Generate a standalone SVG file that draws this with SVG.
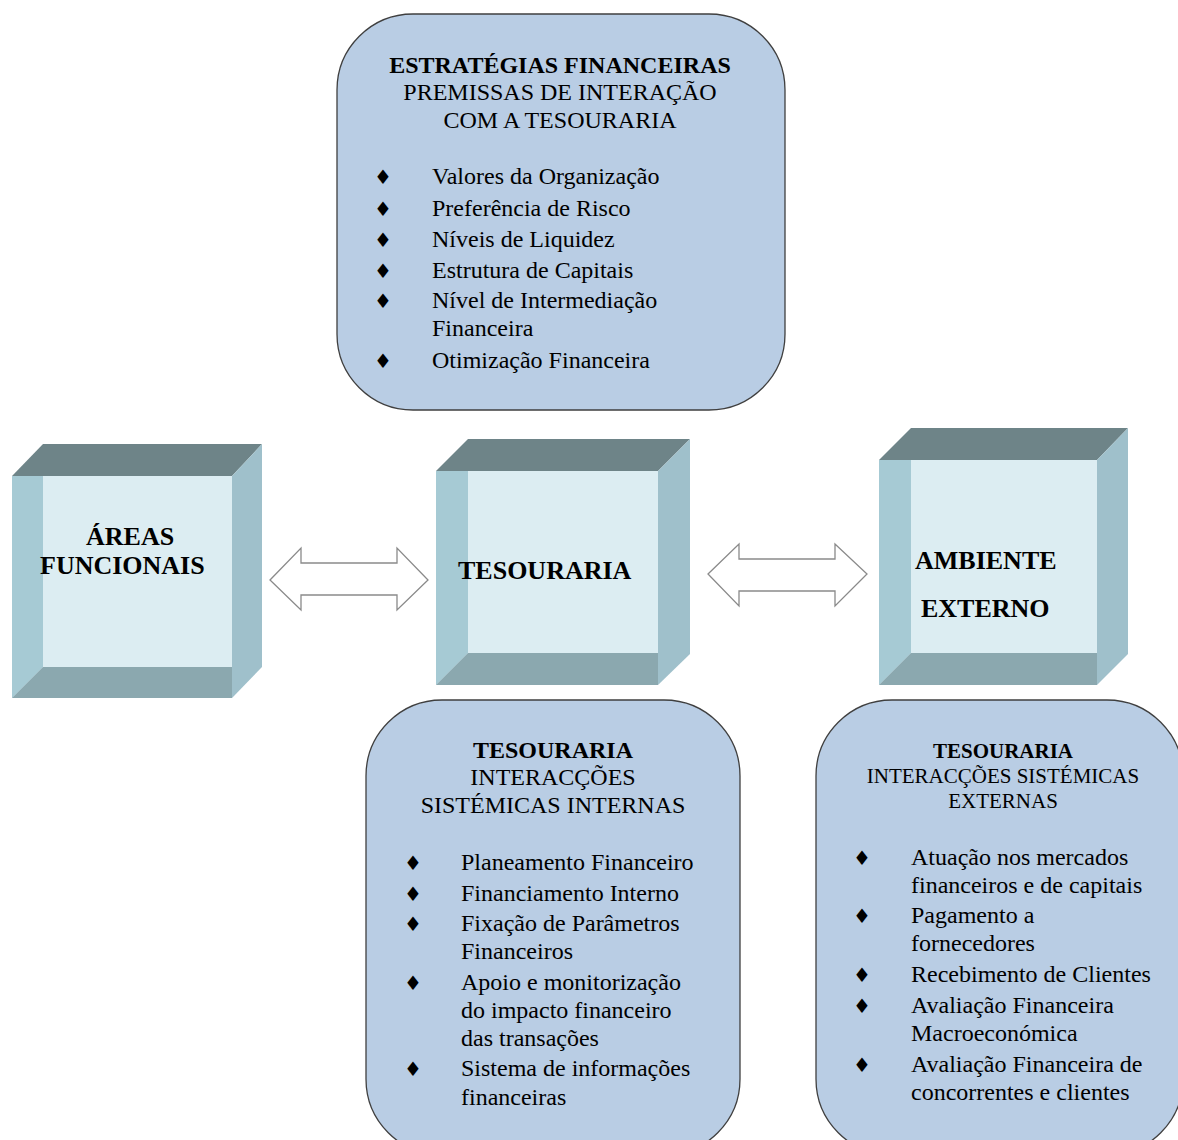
<svg xmlns="http://www.w3.org/2000/svg" width="1178" height="1140" viewBox="0 0 1178 1140">
<style>
.box{fill:#b9cde4;stroke:#3f3f3f;stroke-width:1.3}
.hb{font-family:"Liberation Serif",serif;font-weight:bold;font-size:24px;fill:#000;text-anchor:middle}
.hr{font-family:"Liberation Serif",serif;font-size:24px;fill:#000;text-anchor:middle}
.it{font-family:"Liberation Serif",serif;font-size:24px;fill:#000}
.bu{font-family:"DejaVu Sans",sans-serif;font-size:20px;fill:#000;text-anchor:middle}
.cb{font-family:"Liberation Serif",serif;font-weight:bold;font-size:26px;fill:#000}
.top{fill:#6e8488}
.side{fill:#9fc0cb}
.lft{fill:#a6cad4}
.bot{fill:#8ba8af}
.face{fill:#dcedf2}
.arr{fill:#fff;stroke:#8a8a8a;stroke-width:1.3}
</style>
<rect width="1178" height="1140" fill="#fff"/>

<g id="estrategias">
<rect class="box" x="337" y="14" width="448" height="396" rx="76" ry="76"/>
<text class="hb" x="560" y="73">ESTRATÉGIAS FINANCEIRAS</text>
<text class="hr" x="560" y="100">PREMISSAS DE INTERAÇÃO</text>
<text class="hr" x="560" y="128">COM A TESOURARIA</text>
<text class="bu" x="383" y="184">♦</text><text class="it" x="432" y="184">Valores da Organização</text>
<text class="bu" x="383" y="216">♦</text><text class="it" x="432" y="216">Preferência de Risco</text>
<text class="bu" x="383" y="247">♦</text><text class="it" x="432" y="247">Níveis de Liquidez</text>
<text class="bu" x="383" y="278">♦</text><text class="it" x="432" y="278">Estrutura de Capitais</text>
<text class="bu" x="383" y="308">♦</text><text class="it" x="432" y="308">Nível de Intermediação</text>
<text class="it" x="432" y="336">Financeira</text>
<text class="bu" x="383" y="368">♦</text><text class="it" x="432" y="368">Otimização Financeira</text>
</g>

<g id="areas-funcionais">
<polygon class="top" points="12,476 43,444 262,444 232,476"/>
<polygon class="side" points="232,476 262,444 262,667 232,698"/>
<rect class="face" x="12" y="476" width="220" height="222"/>
<polygon class="lft" points="12,476 43,476 43,667 12,698"/>
<polygon class="bot" points="12,698 43,667 232,667 232,698"/>
<text class="cb" x="86" y="545">ÁREAS</text>
<text class="cb" x="40" y="574">FUNCIONAIS</text>
</g>

<g id="tesouraria">
<polygon class="top" points="436,471 468,439 690,439 658,471"/>
<polygon class="side" points="658,471 690,439 690,654 658,685"/>
<rect class="face" x="436" y="471" width="222" height="214"/>
<polygon class="lft" points="436,471 468,471 468,653 436,685"/>
<polygon class="bot" points="436,685 468,653 658,653 658,685"/>
<text class="cb" x="458" y="579">TESOURARIA</text>
</g>

<g id="ambiente-externo">
<polygon class="top" points="879,460 911,428 1128,428 1097,460"/>
<polygon class="side" points="1097,460 1128,428 1128,654 1097,685"/>
<rect class="face" x="879" y="460" width="218" height="225"/>
<polygon class="lft" points="879,460 911,460 911,653 879,685"/>
<polygon class="bot" points="879,685 911,653 1097,653 1097,685"/>
<text class="cb" x="915" y="569">AMBIENTE</text>
<text class="cb" x="921" y="617">EXTERNO</text>
</g>

<g id="interacoes-internas">
<rect class="box" x="366" y="700" width="374" height="455" rx="76" ry="76"/>
<text class="hb" x="553" y="758">TESOURARIA</text>
<text class="hr" x="553" y="785">INTERACÇÕES</text>
<text class="hr" x="553" y="813">SISTÉMICAS INTERNAS</text>
<text class="bu" x="413" y="870">♦</text><text class="it" x="461" y="870">Planeamento Financeiro</text>
<text class="bu" x="413" y="901">♦</text><text class="it" x="461" y="901">Financiamento Interno</text>
<text class="bu" x="413" y="931">♦</text><text class="it" x="461" y="931">Fixação de Parâmetros</text>
<text class="it" x="461" y="959">Financeiros</text>
<text class="bu" x="413" y="990">♦</text><text class="it" x="461" y="990">Apoio e monitorização</text>
<text class="it" x="461" y="1018">do impacto financeiro</text>
<text class="it" x="461" y="1046">das transações</text>
<text class="bu" x="413" y="1076">♦</text><text class="it" x="461" y="1076">Sistema de informações</text>
<text class="it" x="461" y="1105">financeiras</text>
</g>

<g id="interacoes-externas">
<rect class="box" x="816" y="700" width="367" height="455" rx="76" ry="76"/>
<text class="hb" x="1003" y="758" style="font-size:21px">TESOURARIA</text>
<text class="hr" x="1003" y="783" style="font-size:21px">INTERACÇÕES SISTÉMICAS</text>
<text class="hr" x="1003" y="808" style="font-size:21px">EXTERNAS</text>
<text class="bu" x="862" y="865">♦</text><text class="it" x="911" y="865">Atuação nos mercados</text>
<text class="it" x="911" y="893">financeiros e de capitais</text>
<text class="bu" x="862" y="923">♦</text><text class="it" x="911" y="923">Pagamento a</text>
<text class="it" x="911" y="951">fornecedores</text>
<text class="bu" x="862" y="982">♦</text><text class="it" x="911" y="982">Recebimento de Clientes</text>
<text class="bu" x="862" y="1013">♦</text><text class="it" x="911" y="1013">Avaliação Financeira</text>
<text class="it" x="911" y="1041">Macroeconómica</text>
<text class="bu" x="862" y="1072">♦</text><text class="it" x="911" y="1072">Avaliação Financeira de</text>
<text class="it" x="911" y="1100">concorrentes e clientes</text>
</g>

<g id="connectors">
<polygon class="arr" points="270,580 301,548 301,563 397,563 397,548 428,580 397,610 397,595 301,595 301,610"/>
<polygon class="arr" points="708,574 739,544 739,559 835,559 835,544 867,574 835,606 835,591 739,591 739,606"/>
</g>
</svg>
